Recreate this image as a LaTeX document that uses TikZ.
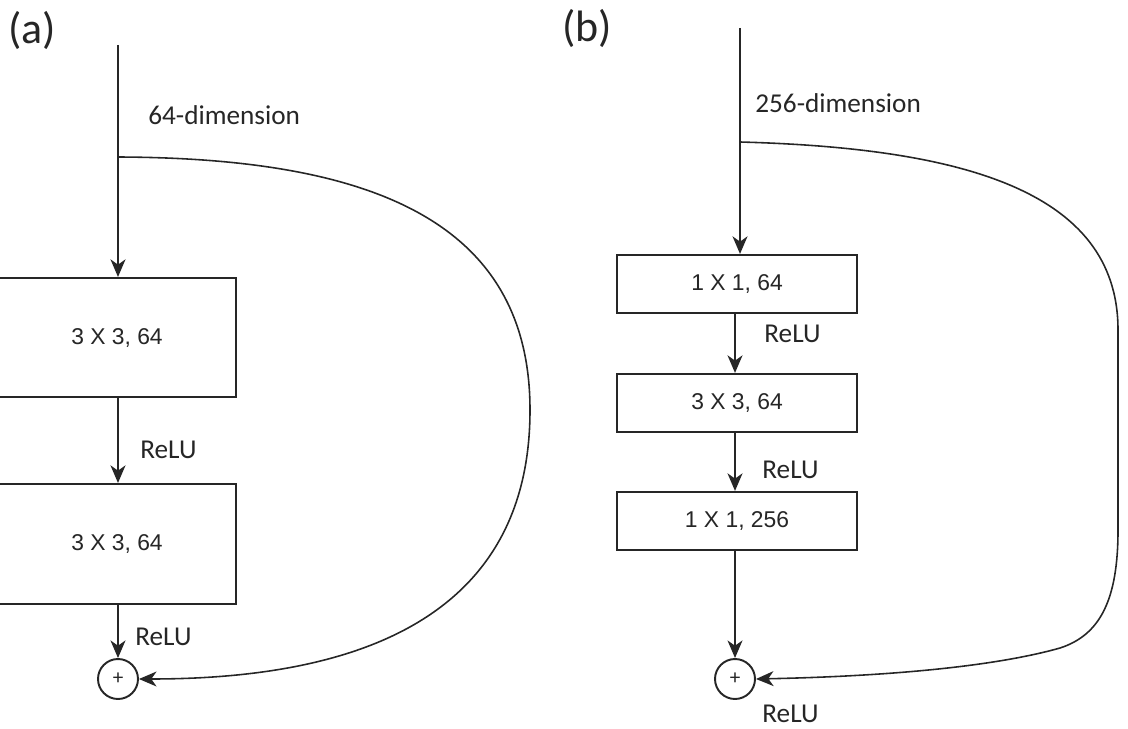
\documentclass[tikz,border=0pt]{standalone}
\usepackage{fontspec}
\setmainfont{Carlito}
\newfontfamily\boxfont{Liberation Sans}
\usetikzlibrary{arrows.meta}
\definecolor{ink}{HTML}{262626}
\tikzset{
  tip/.style={-{Stealth[length=10pt,width=8.5pt,inset=3pt]}},
  conn/.style={draw=ink, line width=1.1pt, tip},
  skip/.style={draw=ink, line width=0.9pt, tip},
  layer/.style={draw=ink, line width=1.2pt, fill=white, inner sep=0pt, font=\boxfont\fontsize{13}{15}\selectfont, text=ink},
  lbl/.style={anchor=west, inner sep=0pt, font=\fontsize{15.5}{18}\selectfont, text=ink},
  tag/.style={anchor=west, inner sep=0pt, font=\fontsize{25}{29}\selectfont, text=ink},
  sumnode/.style={circle, draw=ink, line width=1.1pt, minimum size=0.8cm, inner sep=0pt, font=\fontsize{12}{14}\selectfont, text=ink}
}
\begin{document}
\begin{tikzpicture}[x=0.02cm, y=-0.02cm]
\useasboundingbox (0,0) rectangle (1128,729);
\clip (0,0) rectangle (1128,729);

% ---------- (a) basic block ----------
\node[tag] (taga) at (8,30) {(a)};
\coordinate (ina) at (118,45);
\coordinate (splita) at (118,157);
\node[lbl] (dima) at (148,115) {64-dimension};
\node[layer, minimum width=4.76cm, minimum height=2.38cm] (a1) at (117,337.5) {3 X 3, 64};
\node[layer, minimum width=4.76cm, minimum height=2.40cm] (a2) at (117,544) {3 X 3, 64};
\node[lbl] (relua1) at (140,450) {ReLU};
\node[lbl] (relua2) at (135,637) {ReLU};
\node[sumnode] (suma) at (118,679) {+};

\draw[conn] (ina) -- (a1.north -| ina);
\draw[conn] (a1.south -| ina) -- (a2.north -| ina);
\draw[conn] (a2.south -| ina) -- (suma.north);
\draw[skip] (splita) .. controls (360,158) and (530,215) .. (530,410)
                      .. controls (530,590) and (400,679) .. (suma.east);

% ---------- (b) bottleneck block ----------
\node[tag] (tagb) at (562,28) {(b)};
\coordinate (inb) at (740,28);
\coordinate (splitb) at (740,142);
\node[lbl] (dimb) at (755,103) {256-dimension};
\node[layer, minimum width=4.8cm, minimum height=1.16cm] (b1) at (737,284) {1 X 1, 64};
\node[layer, minimum width=4.8cm, minimum height=1.16cm] (b2) at (737,403) {3 X 3, 64};
\node[layer, minimum width=4.8cm, minimum height=1.16cm] (b3) at (737,521) {1 X 1, 256};
\node[lbl] (relub1) at (764,334) {ReLU};
\node[lbl] (relub2) at (762,470) {ReLU};
\node[lbl] (relub3) at (762,714) {ReLU};
\node[sumnode] (sumb) at (735,679) {+};

\draw[conn] (inb) -- (b1.north -| inb);
\draw[conn] (b1.south -| sumb) -- (b2.north -| sumb);
\draw[conn] (b2.south -| sumb) -- (b3.north -| sumb);
\draw[conn] (b3.south -| sumb) -- (sumb.north);
\draw[skip] (splitb) .. controls (960,148) and (1118,190) .. (1118,330)
                      -- (1118,530)
                      .. controls (1118,600) and (1100,635) .. (1060,648)
                      .. controls (1000,665) and (900,676) .. (sumb.east);
\end{tikzpicture}
\end{document}
